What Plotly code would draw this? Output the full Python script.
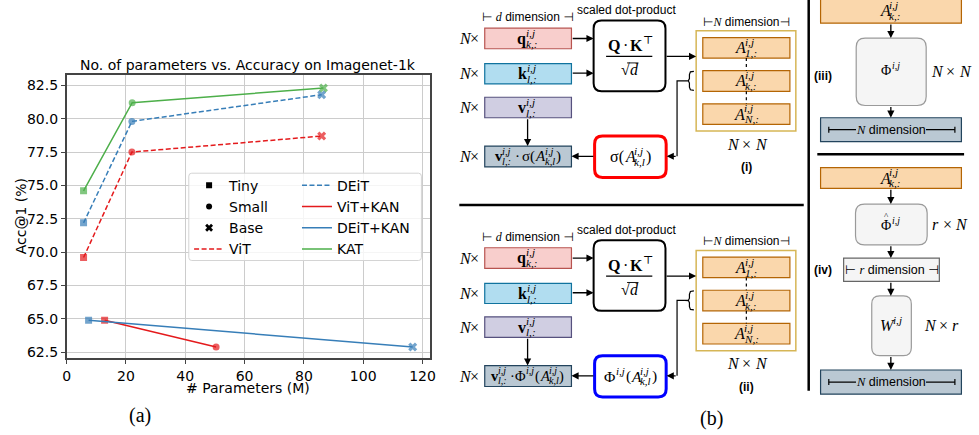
import plotly.graph_objects as go

# ---------------- data ----------------
size_names = ["Tiny", "Small", "Base"]
vit_params = [5.7, 22.0, 86.0]
vit_acc = [69.6, 77.5, 78.7]
vit_sizes = ["Tiny", "Small", "Base"]
deit_params = [5.7, 22.0, 86.0]
deit_acc = [72.2, 79.8, 81.8]
deit_sizes = ["Tiny", "Small", "Base"]
vitkan_params = [12.8, 50.4]
vitkan_acc = [64.9, 62.9]
vitkan_sizes = ["Tiny", "Small"]
deitkan_params = [7.4, 116.7]
deitkan_acc = [64.9, 62.9]
deitkan_sizes = ["Tiny", "Base"]
kat_params = [5.7, 22.1, 86.6]
kat_acc = [74.6, 81.2, 82.3]
kat_sizes = ["Tiny", "Small", "Base"]
x_ticks = [0, 20, 40, 60, 80, 100, 120]
y_ticks = [62.5, 65.0, 67.5, 70.0, 72.5, 75.0, 77.5, 80.0, 82.5]

RED, BLUE, GREEN = "#e41a1c", "#377eb8", "#4daf4a"
SYM = {"Tiny": "square", "Small": "circle", "Base": "x"}
MSZ = {"Tiny": 7, "Small": 7, "Base": 8}

W, H = 979, 435
def X(p): return p / W
def Y(p): return 1 - p / H

CHART_FONT = "DejaVu Sans"
SERIF = "Liberation Serif, DejaVu Serif, serif"
SANS = "Liberation Sans, Arial, DejaVu Sans, sans-serif"

fig = go.Figure()

# legend-only size markers
for i, s in enumerate(size_names):
    fig.add_trace(go.Scatter(x=[None], y=[None], mode="markers", name=s,
                             marker=dict(color="black", symbol=SYM[s], size=MSZ[s] - 1),
                             legend="legend", legendrank=i + 1))

series = [
    ("ViT", vit_params, vit_acc, vit_sizes, RED, "5px,2.5px", "legend", 4),
    ("DEiT", deit_params, deit_acc, deit_sizes, BLUE, "5px,2.5px", "legend2", 1),
    ("ViT+KAN", vitkan_params, vitkan_acc, vitkan_sizes, RED, "solid", "legend2", 2),
    ("DEiT+KAN", deitkan_params, deitkan_acc, deitkan_sizes, BLUE, "solid", "legend2", 3),
    ("KAT", kat_params, kat_acc, kat_sizes, GREEN, "solid", "legend2", 4),
]
for name, xs, ys, sz, col, dash, leg, rank in series:
    fig.add_trace(go.Scatter(x=xs, y=ys, mode="lines", name=name,
                             line=dict(color=col, width=1.5, dash=dash),
                             legend=leg, legendrank=rank))
    fig.add_trace(go.Scatter(x=xs, y=ys, mode="markers", showlegend=False,
                             marker=dict(color=col, symbol=[SYM[s] for s in sz],
                                         size=[MSZ[s] for s in sz], line=dict(width=0))))

shapes = []
annos = []

def rect(x0, y0, x1, y1, fill="rgba(0,0,0,0)", line="black", lw=1.0):
    shapes.append(dict(type="rect", xref="paper", yref="paper", x0=X(x0), x1=X(x1),
                       y0=Y(y1), y1=Y(y0), fillcolor=fill, line=dict(color=line, width=lw),
                       layer="above"))

def rrect(x0, y0, x1, y1, r, fill, line, lw):
    path = (f"M{X(x0+r)},{Y(y0)} L{X(x1-r)},{Y(y0)} Q{X(x1)},{Y(y0)} {X(x1)},{Y(y0+r)} "
            f"L{X(x1)},{Y(y1-r)} Q{X(x1)},{Y(y1)} {X(x1-r)},{Y(y1)} "
            f"L{X(x0+r)},{Y(y1)} Q{X(x0)},{Y(y1)} {X(x0)},{Y(y1-r)} "
            f"L{X(x0)},{Y(y0+r)} Q{X(x0)},{Y(y0)} {X(x0+r)},{Y(y0)} Z")
    shapes.append(dict(type="path", xref="paper", yref="paper", path=path, fillcolor=fill,
                       line=dict(color=line, width=lw), layer="above"))

def pline(pts, color="black", lw=1.2, dash="solid"):
    path = "M" + " L".join(f"{X(a)},{Y(b)}" for a, b in pts)
    shapes.append(dict(type="path", xref="paper", yref="paper", path=path,
                       line=dict(color=color, width=lw, dash=dash), layer="above"))

def seg(x0, y0, x1, y1, color="black", lw=1.2, dash="solid"):
    shapes.append(dict(type="line", xref="paper", yref="paper", x0=X(x0), y0=Y(y0),
                       x1=X(x1), y1=Y(y1), line=dict(color=color, width=lw, dash=dash),
                       layer="above"))

def txt(x, y, s, size=12, family=SANS, color="black", xanchor="center", bg=None, angle=0):
    a = dict(x=X(x), y=Y(y), xref="paper", yref="paper", text=s, showarrow=False,
             xanchor=xanchor, yanchor="middle", font=dict(family=family, size=size, color=color),
             borderpad=0, borderwidth=0, textangle=angle)
    if bg:
        a["bgcolor"] = bg
    annos.append(a)

def arrow(x0, y0, x1, y1):
    annos.append(dict(x=X(x1), y=Y(y1), xref="paper", yref="paper", ax=x0 - x1, ay=y0 - y1,
                      axref="pixel", ayref="pixel", text="", showarrow=True, arrowhead=2,
                      arrowsize=1.1, arrowwidth=1.3, arrowcolor="black", standoff=0))

EMR = {"(": .333, ")": .333, "·": .25, "Φ": .78, "σ": .6, "×": .564, "√": .55, "⊤": .7}
EMI = {"A": .611, "N": .667, "W": .833, "d": .5, "r": .389, "i": .278, "j": .278, "k": .444,
       "l": .278, ",": .25, ":": .333, "1": .5, "⊤": .7}
EMB = {"q": .556, "k": .556, "v": .5, "Q": .778, "K": .778}

def sw(s, st):
    tab = EMB if "b" in st else (EMI if "i" in st else EMR)
    return sum(tab.get(c, .5) for c in s)

def wrap(s, st):
    if "b" in st:
        s = f"<b>{s}</b>"
    if "i" in st:
        s = f"<i>{s}</i>"
    return s

def math(cx, cy, toks, size=16):
    items, total = [], 0
    for tk in toks:
        if tk[0] == "^":
            _, sup, sub = tk
            w = max(sw(sup, "i") if sup else 0, sw(sub, "i") if sub else 0) * size * .7 + 1
            items.append(("s", sup, sub, w))
        elif tk[0] == "_":
            w = tk[1] * size
            items.append(("g", None, None, w))
        else:
            w = sw(tk[0], tk[1]) * size
            items.append(("t", tk[0], tk[1], w))
        total += w
    x = cx - total / 2
    for it in items:
        if it[0] == "t":
            txt(x, cy, wrap(it[1], it[2]), size, SERIF, xanchor="left")
        elif it[0] == "s":
            if it[1]:
                txt(x, cy - .36 * size, wrap(it[1], "i"), size * .7, SERIF, xanchor="left")
            if it[2]:
                txt(x, cy + .33 * size, wrap(it[2], "i"), size * .7, SERIF, xanchor="left")
        x += it[3]

Q_F, Q_L = "#f8cecc", "#b85450"
K_F, K_L = "#b1ddf0", "#10739e"
V_F, V_L = "#d0cee2", "#56517e"
O_F, O_L = "#bac8d3", "#23445d"
A_F, A_L = "#fad7ac", "#b46504"
Y_L = "#d6b656"
G_F, G_L = "#f5f5f5", "#9a9a9a"

def ital(s):
    return f'<span style="font-family:Liberation Serif"><i>{s}</i></span>'

def panel(o, kind):
    txt(529, 17 + o, f"⊢ {ital('d')} dimension ⊣", 12, SANS)
    txt(629, 10 + o, "scaled dot-product", 12, SANS)
    for yy in [38.7, 74.2, 108, 157.2]:
        math(470, yy + o, [("N", "i"), ("×", "")], 16)
    rect(485.7, 28.3 + o, 573.3, 49 + o, Q_F, Q_L, 1.2)
    rect(485.7, 64 + o, 573.3, 84.3 + o, K_F, K_L, 1.2)
    rect(485.7, 97.7 + o, 573.3, 118.3 + o, V_F, V_L, 1.2)
    rect(485.7, 146.7 + o, 573.3, 167.7 + o, O_F, O_L, 1.2)
    math(529, 38.7 + o, [("q", "b"), ("^", "i,j", "k,:")], 16)
    math(529, 74.2 + o, [("k", "b"), ("^", "i,j", "l,:")], 16)
    math(529, 108 + o, [("v", "b"), ("^", "i,j", "l,:")], 16)
    if kind == "i":
        math(529, 157.2 + o, [("v", "b"), ("^", "i,j", "l,:"), ("_", .2), ("·", ""), ("_", .2),
                              ("σ(", ""), ("A", "i"), ("^", "i,j", "k,l"), (")", "")], 15)
    else:
        math(529, 157.2 + o, [("v", "b"), ("^", "i,j", "l,:"), ("_", .12), ("·", ""), ("_", .12),
                              ("Φ", ""), ("^", "i,j", ""), ("(", ""), ("A", "i"),
                              ("^", "i,j", "k,l"), (")", "")], 14.5)
    arrow(529, 118.3 + o, 529, 146.7 + o)
    arrow(573.3, 38.7 + o, 595.7, 38.7 + o)
    arrow(573.3, 73.5 + o, 595.7, 73.5 + o)
    # dot product box
    rrect(595.7, 20.7 + o, 668.3, 91.7 + o, 8, "white", "black", 2)
    math(632, 46 + o, [("Q", "b"), ("_", .2), ("·", ""), ("_", .2), ("K", "b"), ("^", "⊤", "")], 16)
    seg(608.3, 56.7 + o, 655, 56.7 + o, lw=1.2)
    math(632, 70 + o, [("√", ""), ("d", "i")], 16)
    seg(629.5, 63.2 + o, 641, 63.2 + o, lw=0.9)
    arrow(668.3, 56.7 + o, 699.3, 56.7 + o)
    # attention matrix
    rect(699.3, 31 + o, 800, 131.7 + o, "white", Y_L, 1.5)
    txt(750, 21.7 + o, f"⊢{ital('N')} dimension⊣", 12, SANS)
    for (y0, y1, sub) in [(37.7, 58.3, "1,:"), (71, 91.7, "k,:"), (104.3, 125, "N,:")]:
        rect(706, y0 + o, 794, y1 + o, A_F, A_L, 1.2)
    seg(750, 58.3 + o, 750, 71 + o, lw=1.2, dash="dot")
    seg(750, 91.7 + o, 750, 104.3 + o, lw=1.2, dash="dot")
    for (y0, y1, sub) in [(37.7, 58.3, "1,:"), (71, 91.7, "k,:"), (104.3, 125, "N,:")]:
        math(750, (y0 + y1) / 2 + o, [("A", "i"), ("^", "i,j", sub)], 16)
    math(750, 145 + o, [("N", "i"), ("_", .25), ("×", ""), ("_", .25), ("N", "i")], 16)
    txt(750, 168 + o, "<b>(%s)</b>" % kind, 12, SANS)
    # brace + connector
    bp = [(697, 71.7), (693.5, 72.2), (692.5, 75), (692.5, 79), (691.5, 81), (688, 81.2),
          (691.5, 81.4), (692.5, 83.5), (692.5, 87.5), (693.5, 90.2), (697, 90.7)]
    pline([(a, b + o) for a, b in bp], lw=1.2)
    pline([(688, 81.2 + o), (680, 81.2 + o), (680, 157 + o)], lw=1.2)
    arrow(680, 157 + o, 669.5, 157 + o)
    if kind == "i":
        rrect(596.7, 136.7 + o, 669, 178.3 + o, 8, "white", "#ff0000", 3)
        math(633, 157.5 + o, [("σ(", ""), ("A", "i"), ("^", "i,j", "k,l"), (")", "")], 16)
    else:
        rrect(596.7, 136.7 + o, 669, 178.3 + o, 8, "white", "#0000ff", 3)
        math(633, 157.5 + o, [("Φ", ""), ("^", "i,j", ""), ("(", ""), ("A", "i"),
                              ("^", "i,j", "k,l"), (")", "")], 15.5)
    arrow(596.7, 157 + o, 573.3, 157 + o)

panel(0, "i")
panel(220.6, "ii")

# dividers
seg(460, 206, 808, 206, lw=2.5)
seg(813, 0, 813, 392.5, lw=2.5)
seg(821.7, 155, 970, 155, lw=2.5)

def ndim_box(y0, y1):
    rect(825, y0, 967.3, y1, O_F, O_L, 1.2)
    yc = (y0 + y1) / 2
    seg(833.3, yc, 960.7, yc, lw=1.2)
    seg(833.3, yc - 3, 833.3, yc + 3, lw=1.2)
    seg(960.7, yc - 3, 960.7, yc + 3, lw=1.2)
    txt(896.5, yc, f"{ital('N')} dimension", 12.5, SANS, bg=O_F)

# (iii)
rect(825, -1, 967.3, 23.3, A_F, A_L, 1.2)
math(896, 11, [("A", "i"), ("^", "i,j", "k,:")], 16)
arrow(896, 23.3, 896, 38.3)
rrect(861, 38.3, 931.7, 106, 9, G_F, G_L, 1.2)
math(896, 71, [("Φ", ""), ("^", "i,j", "")], 14)
math(956, 71.7, [("N", "i"), ("_", .25), ("×", ""), ("_", .25), ("N", "i")], 16)
txt(827, 76, "<b>(iii)</b>", 12, SANS)
arrow(896, 106, 896, 118.3)
ndim_box(118.3, 142.3)

# (iv)
rect(825, 168.3, 967.3, 189.3, A_F, A_L, 1.2)
math(896, 179, [("A", "i"), ("^", "i,j", "k,:")], 16)
arrow(896, 189.3, 896, 205)
rrect(860.3, 205, 932.7, 246, 9, G_F, G_L, 1.2)
math(896, 226.5, [("Φ", ""), ("^", "i,j", "")], 14)
txt(891.5, 216.5, "^", 9, SERIF)
math(955, 226, [("r", "i"), ("_", .25), ("×", ""), ("_", .25), ("N", "i")], 16)
arrow(896, 246, 896, 259.3)
rect(848.3, 259.3, 945, 282.7, G_F, "#666666", 1.2)
txt(896.7, 271, f"⊢ {ital('r')} dimension ⊣", 12.5, SANS)
txt(827, 271.7, "<b>(iv)</b>", 12, SANS)
arrow(896, 282.7, 896, 297.3)
rrect(876.7, 297.3, 916.7, 357.3, 8, G_F, G_L, 1.2)
math(896.7, 327.5, [("W", "i"), ("^", "i,j", "")], 16)
math(946.7, 327.3, [("N", "i"), ("_", .25), ("×", ""), ("_", .25), ("r", "i")], 16)
arrow(896, 357.3, 896, 371.7)
ndim_box(371.7, 396)

# captions
txt(137, 417, "(a)", 20, SERIF)
txt(715, 420, "(b)", 20, SERIF)

# chart texts
txt(246.7, 65.5, "No. of parameters vs. Accuracy on Imagenet-1k", 14, CHART_FONT)
txt(17, 217.5, "Acc@1 (%)", 14, CHART_FONT, angle=-90)
txt(246.7, 389.5, "# Parameters (M)", 14, CHART_FONT)

# legend frame
rrect(186.7, 174, 421.7, 261.7, 3, "rgba(255,255,255,0.8)", "#d4d4d4", 1)

axis_common = dict(showline=True, mirror=True, linecolor="#444444", linewidth=1.5,
                   ticks="outside", ticklen=4, tickcolor="#444444", showgrid=True,
                   gridcolor="#cccccc", gridwidth=1, zeroline=False,
                   tickfont=dict(family=CHART_FONT, size=14, color="black"))

fig.update_layout(
    width=W, height=H, margin=dict(l=0, r=0, t=0, b=0),
    paper_bgcolor="white", plot_bgcolor="white", showlegend=True,
    xaxis=dict(domain=[X(63.3), X(430)], range=[0, 122.4], tickvals=x_ticks, **axis_common),
    yaxis=dict(domain=[Y(360), Y(75)], range=[62.05, 83.3], tickvals=y_ticks,
               tickformat=".1f", **axis_common),
    legend=dict(x=X(187), y=Y(170.5), xanchor="left", yanchor="top", bgcolor="rgba(0,0,0,0)",
                borderwidth=0, font=dict(family=CHART_FONT, size=14, color="black"),
                tracegroupgap=0),
    legend2=dict(x=X(296), y=Y(170.5), xanchor="left", yanchor="top", bgcolor="rgba(0,0,0,0)",
                 borderwidth=0, font=dict(family=CHART_FONT, size=14, color="black"),
                 tracegroupgap=0),
    shapes=shapes, annotations=annos,
)

fig.write_html("out.html", config={"displayModeBar": False},
               post_script="document.body.style.margin='0';")
